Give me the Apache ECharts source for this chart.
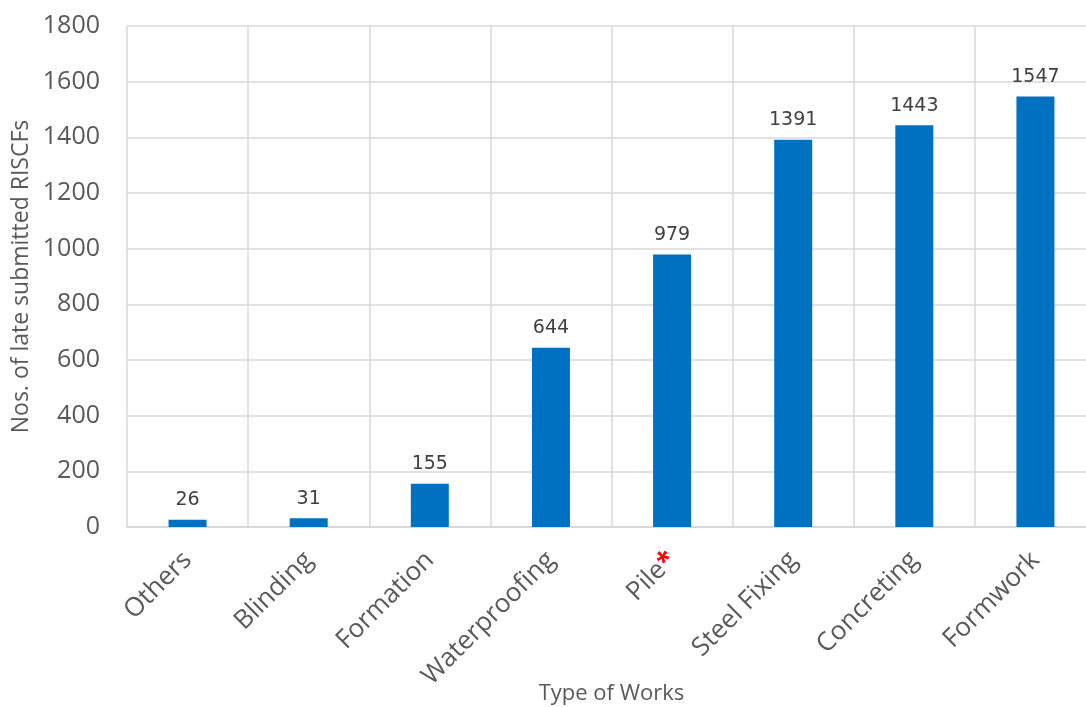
<!DOCTYPE html>
<html><head><meta charset="utf-8">
<script src="https://cdn.jsdelivr.net/npm/echarts@6/dist/echarts.min.js"></script>
<style>html,body{margin:0;padding:0;background:#fff}#c{width:1086px;height:707px}</style>
</head><body><div id="c"></div>
<script>
const categories = ['Others','Blinding','Formation','Waterproofing','Pile','Steel Fixing','Concreting','Formwork'];
const values = [26,31,155,644,979,1391,1443,1547];
const yTicks = {min:0,max:1800,interval:200};
const FONT = 'Open Sans';
const chart = echarts.init(document.getElementById('c'));
chart.setOption({
  animation:false,
  grid:{left:127,right:-10,top:26,bottom:180,containLabel:false,outerBoundsMode:'none'},
  xAxis:{
    type:'category',data:categories,boundaryGap:true,
    name:'Type of Works',nameLocation:'middle',nameGap:156,nameMoveOverlap:false,
    nameTextStyle:{fontFamily:FONT,fontSize:22,color:'#595959'},
    axisLine:{show:true,lineStyle:{color:'#d9d9d9',width:2}},
    axisTick:{show:false},
    splitLine:{show:true,lineStyle:{color:'#d9d9d9',width:1.5}},
    axisLabel:{
      rotate:45,interval:0,margin:29,fontFamily:FONT,fontSize:26,color:'#595959',
      formatter:function(v){return v==='Pile'?'{a|Pile}{r|*}':'{a|'+v+'}';},
      rich:{a:{fontFamily:FONT,fontSize:26,color:'#595959'},r:{fontFamily:FONT,fontSize:26,fontWeight:'bold',color:'#ff0000',verticalAlign:'top'}}
    }
  },
  yAxis:{
    type:'value',min:yTicks.min,max:yTicks.max,interval:yTicks.interval,
    name:'Nos. of late submitted RISCFs',nameLocation:'middle',nameGap:94,nameMoveOverlap:false,
    nameTextStyle:{fontFamily:FONT,fontSize:23,color:'#595959'},
    axisLine:{show:false},axisTick:{show:false},
    axisLabel:{margin:27,fontFamily:FONT,fontSize:25,color:'#595959',formatter:function(v){return String(v);}},
    splitLine:{show:true,lineStyle:{color:'#d9d9d9',width:1.5}}
  },
  series:[{
    type:'bar',data:values,barWidth:38,
    itemStyle:{color:'#0070C0'},
    label:{show:true,position:'top',distance:10,fontFamily:'DejaVu Sans',fontSize:19,color:'#404040'}
  }]
});
</script></body></html>
